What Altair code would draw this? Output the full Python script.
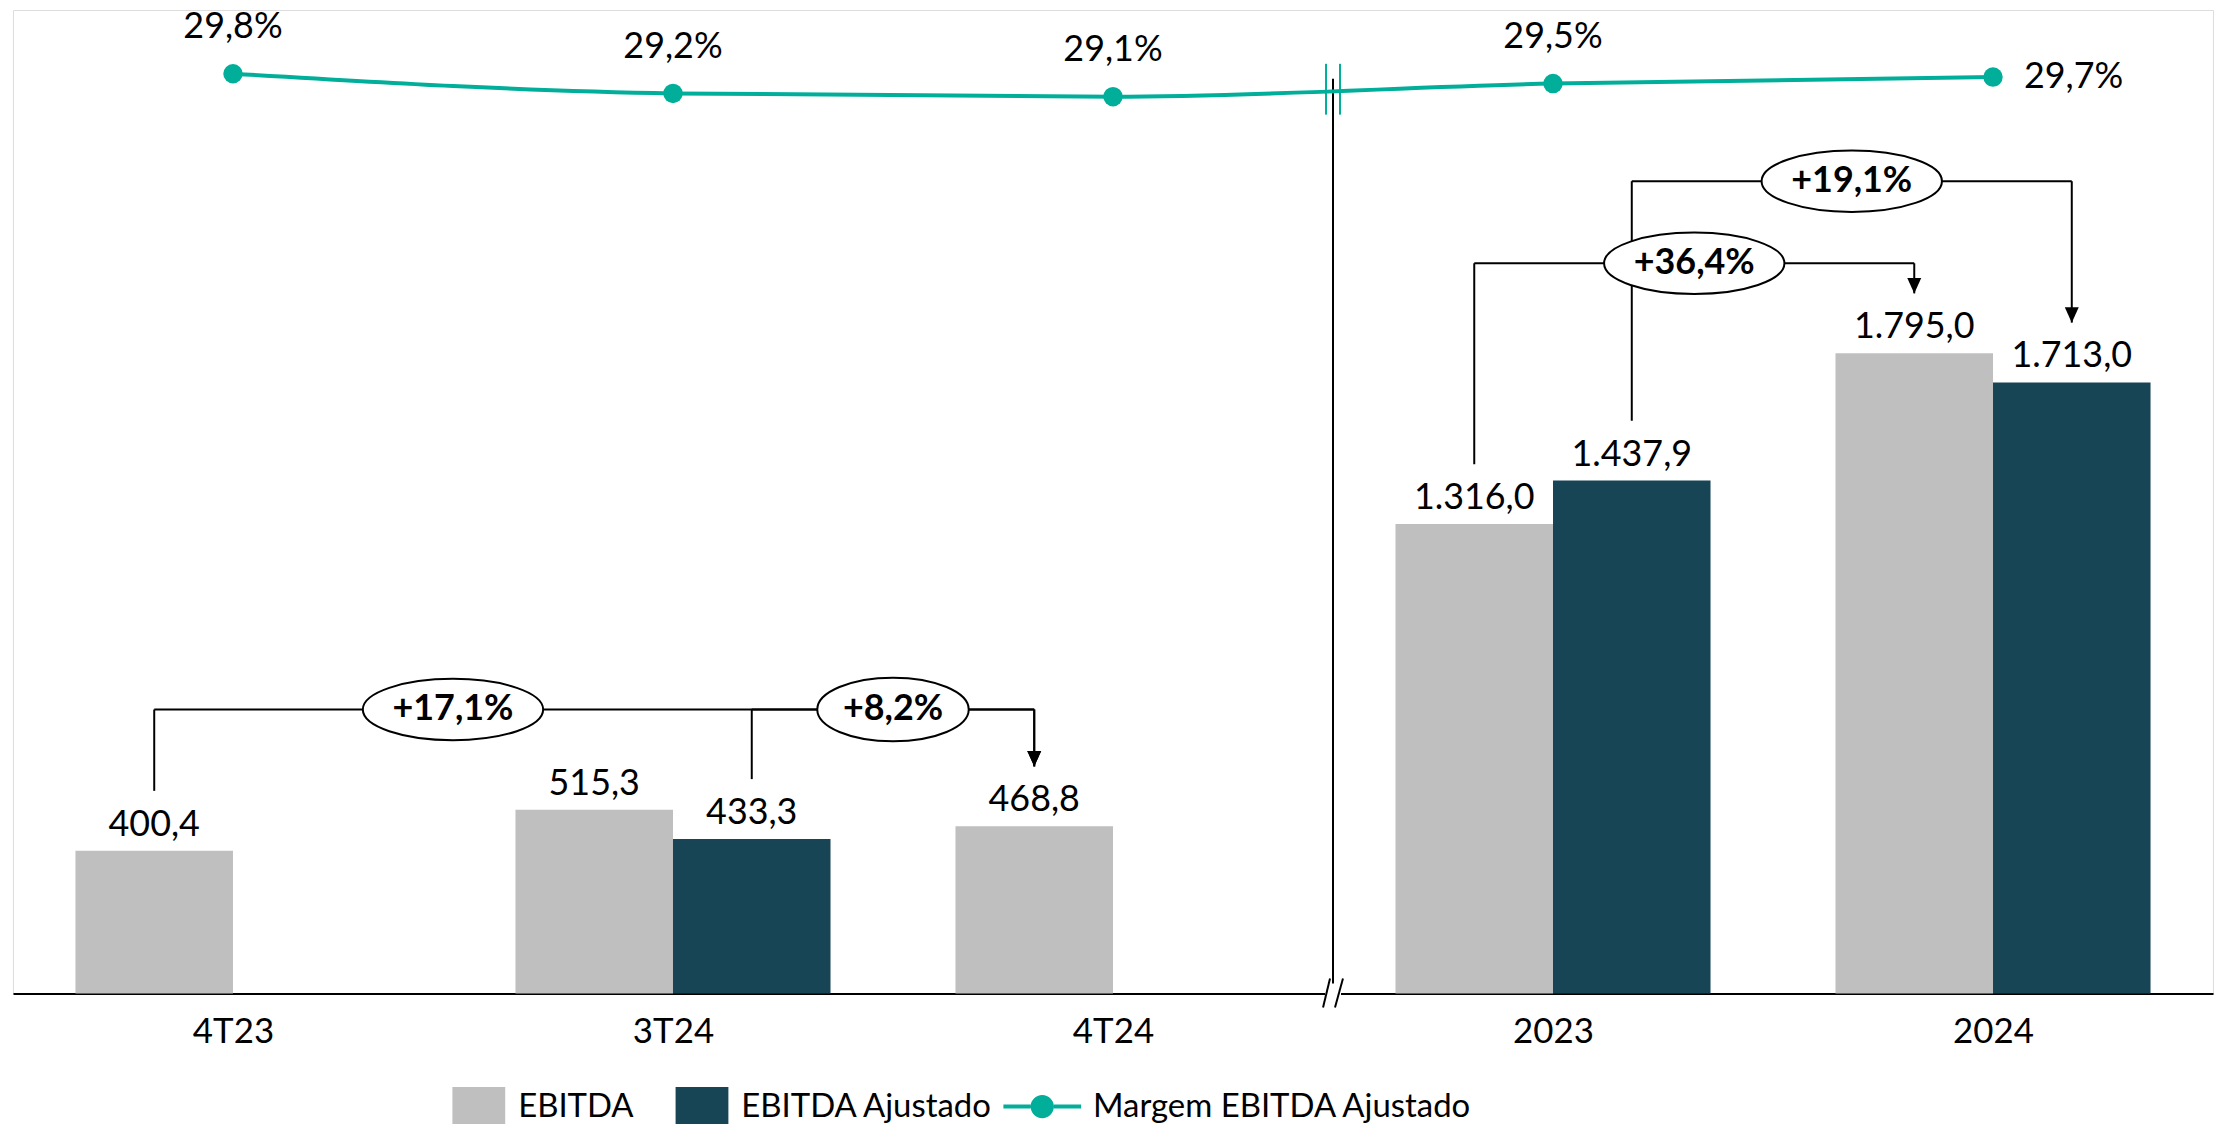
import altair as alt
import pandas as pd

# ---------------- data ----------------
categories = ["4T23", "3T24", "4T24", "2023", "2024"]
ebitda = [400.4, 515.3, 468.8, 1316.0, 1795.0]
ebitda_ajustado = [None, 433.3, None, 1437.9, 1713.0]
margem = [29.8, 29.2, 29.1, 29.5, 29.7]

growth_labels = ["+17,1%", "+8,2%", "+36,4%", "+19,1%"]
growth_from_cat = ["4T23", "3T24", "2023", "2023"]
growth_from_serie = ["EBITDA", "EBITDA Ajustado", "EBITDA", "EBITDA Ajustado"]
growth_to_cat = ["4T24", "4T24", "2024", "2024"]
growth_to_serie = ["EBITDA", "EBITDA", "EBITDA", "EBITDA Ajustado"]
growth_level = [796, 796, 2047, 2277]

series_names = ["EBITDA", "EBITDA Ajustado"]
line_name = "Margem EBITDA Ajustado"

# ---------------- layout ----------------
W, H = 2208, 987
PX_PER_UNIT = 0.358
Y_MAX = H / PX_PER_UNIT
BAR_FRAC = 0.358
LABEL_GAP = 60 / PX_PER_UNIT
M_PX = 32.9
M_HI = min(margem) + 87 / M_PX
M_LO = M_HI - H / M_PX
BREAK_X = 2.5

GRAY = "#BFBFBF"
DARK = "#184556"
TEAL = "#00AE9A"
FONT = "Lato"


def fmt_br(v, d=1):
    s = f"{v:,.{d}f}"
    return s.replace(",", "X").replace(".", ",").replace("X", ".")


def center(cat, serie):
    i = categories.index(cat)
    vals = ebitda if serie == "EBITDA" else ebitda_ajustado
    xc = i - BAR_FRAC / 2 if serie == "EBITDA" else i + BAR_FRAC / 2
    return xc, vals[i]


rows = []
for i, c in enumerate(categories):
    for s, vals in zip(series_names, [ebitda, ebitda_ajustado]):
        v = vals[i]
        if v is None:
            continue
        x0 = i - BAR_FRAC if s == "EBITDA" else i
        rows.append(dict(cat=c, serie=s, value=v, zero=0, x0=x0, x1=x0 + BAR_FRAC,
                         xc=x0 + BAR_FRAC / 2, label=fmt_br(v)))
bars = pd.DataFrame(rows)

starts = [center(growth_from_cat[k], growth_from_serie[k])[0] for k in range(len(growth_labels))]
seg, arrows, ovals = [], [], []
for k, lab in enumerate(growth_labels):
    xf, vf = center(growth_from_cat[k], growth_from_serie[k])
    xt, vt = center(growth_to_cat[k], growth_to_serie[k])
    L = growth_level[k]
    seg += [dict(x=xf, x2=xf, y=vf + LABEL_GAP, y2=L),
            dict(x=xf, x2=xt, y=L, y2=L),
            dict(x=xt, x2=xt, y=L, y2=vt + LABEL_GAP)]
    arrows.append(dict(x=xt, y=vt + LABEL_GAP))
    # oval sits between this bracket's start and the next drop on the same level
    ends = [xt] + [starts[j] for j in range(len(growth_labels))
                   if growth_level[j] == L and starts[j] > xf]
    ovals.append(dict(x=(xf + min(ends)) / 2, y=L, label=lab, wide=len(lab) > 5))
seg = pd.DataFrame(seg)
arrows = pd.DataFrame(arrows)
ovals = pd.DataFrame(ovals)

mdf = pd.DataFrame(dict(idx=list(range(len(categories))), margem=margem,
                        label=[fmt_br(m) + "%" for m in margem],
                        serie=[line_name] * len(margem)))

brk = pd.DataFrame(dict(x=[BREAK_X], zero=[0],
                        top=[(H - 69) / PX_PER_UNIT], bottom=[10 / PX_PER_UNIT],
                        mtop=[(H - 54) / PX_PER_UNIT], mbot=[(H - 105) / PX_PER_UNIT]))

# ---------------- scales / axes ----------------
XS = alt.Scale(domain=[-0.5, len(categories) - 0.5], nice=False, zero=False)
label_expr = "[" + ",".join(f"'{c}'" for c in categories) + "][datum.value]"
XAX = alt.Axis(values=list(range(len(categories))), labelExpr=label_expr, title=None,
               grid=False, ticks=False, tickSize=0, domainColor="black", domainWidth=2,
               labelFont=FONT, labelFontSize=35, labelColor="black", labelPadding=21,
               labelFlush=False, labelOverlap=False)
YS = alt.Scale(domain=[0, Y_MAX], nice=False, zero=False)
MS = alt.Scale(domain=[M_LO, M_HI], nice=False, zero=False)


def X(f):
    return alt.X(f, type="quantitative", scale=XS, axis=XAX)


def Yb(f):
    return alt.Y(f, type="quantitative", scale=YS, axis=None)


def Ym(f):
    return alt.Y(f, type="quantitative", scale=MS, axis=None)


RECT_SYM = "M -1 -0.75 H 1 V 0.75 H -1 Z"
LINE_SYM = ("M -1 -0.05 H -0.3 V 0.05 H -1 Z M 0.3 -0.05 H 1 V 0.05 H 0.3 Z "
            "M 0.3 0 A 0.3 0.3 0 1 1 -0.3 0 A 0.3 0.3 0 1 1 0.3 0 Z")
ARROW_SYM = "M -1 -2.2 L 1 -2.2 L 0 0 Z"
ELL_WIDE = "M -1 0 A 1 0.34 0 1 1 1 0 A 1 0.34 0 1 1 -1 0 Z"
ELL_NARROW = "M -1 0 A 1 0.42 0 1 1 1 0 A 1 0.42 0 1 1 -1 0 Z"

# ---------------- layers ----------------
bar_layer = alt.Chart(bars).mark_rect().encode(
    x=X("x0"), x2="x1", y=Yb("value"), y2="zero",
    color=alt.Color("serie:N", scale=alt.Scale(domain=series_names, range=[GRAY, DARK]),
                    legend=alt.Legend(orient="none", legendX=441, legendY=1074,
                                      direction="horizontal", title=None,
                                      symbolType=RECT_SYM, symbolSize=53 * 53,
                                      symbolOpacity=1, symbolStrokeWidth=0,
                                      labelFont=FONT, labelFontSize=33, labelColor="black",
                                      labelOffset=13, columnPadding=42, labelLimit=1000,
                                      padding=0)))

bar_text = alt.Chart(bars).mark_text(font=FONT, fontSize=36, baseline="alphabetic",
                                     dy=-15, color="black").encode(
    x=X("xc"), y=Yb("value"), text="label")

seg_layer = alt.Chart(seg).mark_rule(color="black", strokeWidth=2).encode(
    x=X("x"), x2="x2", y=Yb("y"), y2="y2")

arrow_layer = alt.Chart(arrows).mark_point(shape=ARROW_SYM, size=196, filled=True,
                                           color="black", opacity=1, strokeWidth=0).encode(
    x=X("x"), y=Yb("y"))

oval_wide = alt.Chart(ovals).transform_filter("datum.wide").mark_point(
    shape=ELL_WIDE, size=181 * 181, fill="white", stroke="black", strokeWidth=2,
    opacity=1, fillOpacity=1).encode(x=X("x"), y=Yb("y"))
oval_narrow = alt.Chart(ovals).transform_filter("!datum.wide").mark_point(
    shape=ELL_NARROW, size=152 * 152, fill="white", stroke="black", strokeWidth=2,
    opacity=1, fillOpacity=1).encode(x=X("x"), y=Yb("y"))
oval_text = alt.Chart(ovals).mark_text(font=FONT, fontSize=36, fontWeight="bold",
                                       baseline="middle", color="black").encode(
    x=X("x"), y=Yb("y"), text="label")

brk_line = alt.Chart(brk).mark_rule(color="black", strokeWidth=2).encode(
    x=X("x"), y=Yb("top"), y2="bottom")
brk_gap = alt.Chart(brk).mark_rule(color="white", strokeWidth=6, xOffset=-8, x2Offset=8).encode(
    x=X("x"), x2="x", y=Yb("zero"), y2="zero")
brk_sl1 = alt.Chart(brk).mark_rule(color="black", strokeWidth=2, xOffset=-10, x2Offset=-3,
                                   yOffset=14, y2Offset=-15).encode(
    x=X("x"), x2="x", y=Yb("zero"), y2="zero")
brk_sl2 = alt.Chart(brk).mark_rule(color="black", strokeWidth=2, xOffset=2, x2Offset=10,
                                   yOffset=14, y2Offset=-15).encode(
    x=X("x"), x2="x", y=Yb("zero"), y2="zero")
brk_m1 = alt.Chart(brk).mark_rule(color=TEAL, strokeWidth=2, xOffset=-7).encode(
    x=X("x"), y=Yb("mtop"), y2="mbot")
brk_m2 = alt.Chart(brk).mark_rule(color=TEAL, strokeWidth=2, xOffset=7).encode(
    x=X("x"), y=Yb("mtop"), y2="mbot")

line_layer = alt.Chart(mdf).mark_line(color=TEAL, strokeWidth=4, interpolate="monotone").encode(
    x=X("idx"), y=Ym("margem"))
point_layer = alt.Chart(mdf).mark_circle(size=380, opacity=1).encode(
    x=X("idx"), y=Ym("margem"),
    color=alt.Color("serie:N", scale=alt.Scale(domain=[line_name], range=[TEAL]),
                    legend=alt.Legend(orient="none", legendX=994, legendY=1061.5,
                                      direction="horizontal", title=None,
                                      symbolType=LINE_SYM, symbolSize=78 * 78,
                                      symbolOpacity=1, symbolStrokeWidth=0,
                                      labelFont=FONT, labelFontSize=33, labelColor="black",
                                      labelOffset=12, labelLimit=1000, padding=0)))
mlab_top = alt.Chart(mdf).transform_filter(f"datum.idx < {len(categories) - 1}").mark_text(
    font=FONT, fontSize=36, baseline="alphabetic", dy=-36, color="black").encode(
    x=X("idx"), y=Ym("margem"), text="label")
mlab_right = alt.Chart(mdf).transform_filter(f"datum.idx == {len(categories) - 1}").mark_text(
    font=FONT, fontSize=36, baseline="middle", align="left", dx=31, color="black").encode(
    x=X("idx"), y=Ym("margem"), text="label")

chart = alt.layer(
    bar_layer, bar_text, seg_layer, arrow_layer, oval_wide, oval_narrow, oval_text,
    brk_gap, brk_sl1, brk_sl2, brk_line, line_layer, brk_m1, brk_m2,
    point_layer, mlab_top, mlab_right
).resolve_scale(y="independent", color="independent").properties(
    width=W, height=H,
    autosize=alt.AutoSizeParams(type="none"),
    padding={"left": 5, "right": 5, "top": 0, "bottom": 129},
).configure_view(strokeWidth=0).configure(background="white", font=FONT)

chart.save("out.html", embed_options={"renderer": "svg", "actions": False})
